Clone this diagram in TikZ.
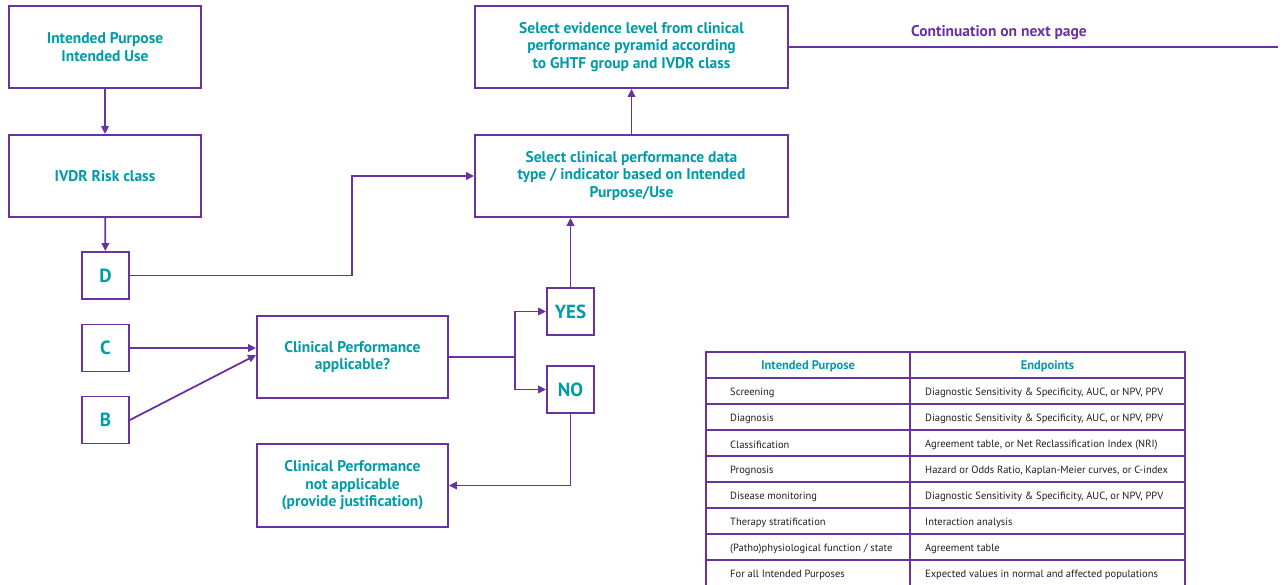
\documentclass[tikz,border=0pt]{standalone}
\usepackage{fontspec}
\setmainfont{PT Sans}
\usetikzlibrary{arrows.meta}
\definecolor{lila}{RGB}{106,50,160}
\definecolor{teal2}{RGB}{0,155,168}
\definecolor{txt}{RGB}{30,30,30}
\tikzset{
  box/.style={draw=lila, line width=1.8pt, inner sep=0pt, align=center,
    text=teal2, font=\fontsize{15.5}{17.6}\selectfont\bfseries},
  letter/.style={box, minimum width=47pt, minimum height=47pt, font=\fontsize{19}{22}\selectfont\bfseries},
  conn/.style={draw=lila, line width=1.8pt, -{Triangle[length=8pt,width=7.5pt]}},
  plain/.style={draw=lila, line width=1.8pt},
  grid/.style={draw=lila, line width=1.1pt},
  hd/.style={text=teal2, font=\fontsize{12.5}{14}\selectfont\bfseries, inner sep=0pt},
  cell/.style={text=txt, font=\fontsize{10.5}{12}\selectfont, inner sep=0pt, anchor=west},
}
\begin{document}
\begin{tikzpicture}[x=1pt,y=-1pt]
\useasboundingbox (0,0) rectangle (1282,585);
% boxes
\node[box, minimum width=192pt, minimum height=82pt] (ip) at (105,47) {Intended Purpose\\Intended Use};
\node[box, minimum width=192pt, minimum height=82pt] (rc) at (105,176) {IVDR Risk class};
\node[letter] (D) at (105.5,275.5) {D};
\node[letter] (C) at (105.5,348) {C};
\node[letter] (B) at (105.5,420) {B};
\node[box, minimum width=191pt, minimum height=82pt] (cpa) at (352.5,357) {Clinical Performance\\applicable?};
\node[box, minimum width=191pt, minimum height=83pt] (cpn) at (352.5,485.5) {Clinical Performance\\not applicable\\(provide justification)};
\node[letter] (yes) at (570.5,311.5) {YES};
\node[letter] (no) at (570.5,389.5) {NO};
\node[box, minimum width=313pt, minimum height=82pt] (sel) at (631.5,176) {Select clinical performance data\\type / indicator based on Intended\\Purpose/Use};
\node[box, minimum width=313pt, minimum height=82pt] (ev) at (631.5,47) {Select evidence level from clinical\\performance pyramid according\\to GHTF group and IVDR class};
\node[text=lila, font=\fontsize{15.5}{17}\selectfont\bfseries, inner sep=0pt] (cont) at (999,32.5) {Continuation on next page};
\coordinate (contend) at (1278,47);
% connectors
\draw[conn] (ip) -- (rc);
\draw[conn] (rc) -- (D);
\draw[conn] (D.east) -- (352,275.5) |- (sel.west);
\draw[conn] (C.east) -- (cpa.west |- C.east);
\draw[conn] (B.east) -- ([yshift=2pt]cpa.west);
\draw[plain] (cpa.east) -- (515,357);
\draw[conn] (515,357) |- (yes.west);
\draw[conn] (515,357) |- (no.west);
\draw[conn] (no.south) |- (cpn.east);
\draw[conn] (yes.north) -- (sel.south -| yes.north);
\draw[conn] (sel.north) -- (ev.south);
\draw[plain] (ev.east |- contend) -- (contend);
% table
\draw[grid] (706,585) -- (706,352) -- (1185,352) -- (1185,585);
\draw[grid] (910,352) -- (910,585);
\foreach \y in {378,404,430,456,482,508,534,560} \draw[grid] (706,\y) -- (1185,\y);
\node[hd] (h1) at (808,366) {Intended Purpose};
\node[hd] (h2) at (1047.5,366) {Endpoints};
\node[cell] (a1) at (730,392.5) {Screening};
\node[cell] (a2) at (730,418.5) {Diagnosis};
\node[cell] (a3) at (730,444.5) {Classification};
\node[cell] (a4) at (730,470.5) {Prognosis};
\node[cell] (a5) at (730,496.5) {Disease monitoring};
\node[cell] (a6) at (730,522.5) {Therapy stratification};
\node[cell] (a7) at (730,548.5) {(Patho)physiological function / state};
\node[cell] (a8) at (730,574.5) {For all Intended Purposes};
\node[cell] (b1) at (925,392.5) {Diagnostic Sensitivity \& Specificity, AUC, or NPV, PPV};
\node[cell] (b2) at (925,418.5) {Diagnostic Sensitivity \& Specificity, AUC, or NPV, PPV};
\node[cell] (b3) at (925,444.5) {Agreement table, or Net Reclassification Index (NRI)};
\node[cell] (b4) at (925,470.5) {Hazard or Odds Ratio, Kaplan-Meier curves, or C-index};
\node[cell] (b5) at (925,496.5) {Diagnostic Sensitivity \& Specificity, AUC, or NPV, PPV};
\node[cell] (b6) at (925,522.5) {Interaction analysis};
\node[cell] (b7) at (925,548.5) {Agreement table};
\node[cell] (b8) at (925,574.5) {Expected values in normal and affected populations};
\end{tikzpicture}
\end{document}
